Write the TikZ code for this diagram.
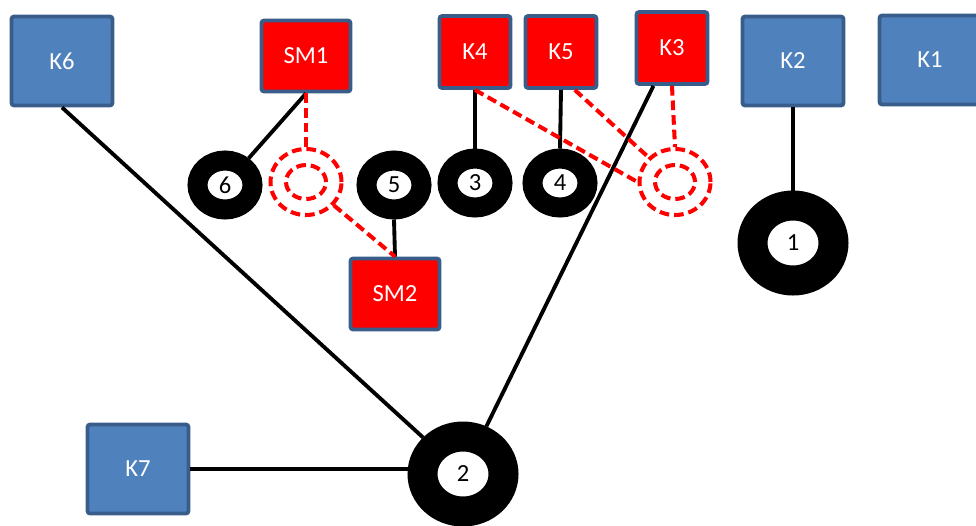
\documentclass[tikz,border=0pt]{standalone}
\usepackage{fontspec}
\setmainfont{Carlito}
\usepackage{xcolor}
\usetikzlibrary{shapes.geometric,positioning,calc}

\definecolor{boxblue}{RGB}{79,129,189}
\definecolor{boxedge}{RGB}{56,93,138}

\begin{document}
\begin{tikzpicture}[x=0.02cm, y=-0.02cm,
  bluebox/.style={rectangle, draw=boxedge, line width=2.2pt, fill=boxblue, rounded corners=1.5pt, minimum width=2.02cm, minimum height=1.78cm, text=white, font=\fontsize{14}{16}\selectfont},
  smbox/.style={bluebox, fill=red, minimum width=1.78cm, minimum height=1.42cm},
  kbox/.style={bluebox, fill=red, minimum width=1.42cm, minimum height=1.44cm},
  ring/.style={ellipse, draw=black, fill=white, line width=0.4cm, minimum width=1.1cm, minimum height=0.98cm, inner sep=0pt, font=\fontsize{14}{16}\selectfont},
  bigring/.style={ring, line width=0.6cm, minimum width=1.62cm, minimum height=1.5cm},
  dring/.style={ellipse, draw=red, line width=2.3pt, dash pattern=on 5.5pt off 2.8pt, minimum width=1.42cm, minimum height=1.32cm, inner sep=0pt},
  dhole/.style={dring, minimum width=0.8cm, minimum height=0.68cm},
  link/.style={line width=2.2pt, black},
  dlink/.style={line width=2.3pt, red, dash pattern=on 5.5pt off 2.8pt}
]
\useasboundingbox (0,0) rectangle (976,525);

% boxes
\node[bluebox] (k6) at (62,61) {K6};
\node[smbox] (sm1) at (306,56) {SM1};
\node[kbox] (k4) at (475,52) {K4};
\node[kbox] (k5) at (561,52) {K5};
\node[kbox] (k3) at (672,48) {K3};
\node[bluebox] (k2) at (793,61) {K2};
\node[bluebox] (k1) at (930,60) {K1};
\node[smbox] (sm2) at (395,294) {SM2};
\node[bluebox] (k7) at (138,469) {K7};

% rings
\node[ring] (r6) at (225,185) {6};
\node[ring] (r5) at (394,185) {5};
\node[ring] (r3) at (475,183) {3};
\node[ring] (r4) at (560,183) {4};
\node[bigring] (r1) at (793,243) {1};
\node[bigring] (r2) at (463,474) {2};

% dashed rings
\node[dring] (d1) at (306,182) {};
\node[dhole] (d1i) at (d1) {};
\node[dring] (d2) at (675,182) {};
\node[dhole] (d2i) at (d2) {};

% connectors
\draw[link] (k6.south) -- (r2);
\draw[link] (sm1.south) -- (r6);
\draw[link] (k4.south) -- (r3.north);
\draw[link] (k5.south) -- (r4.north);
\draw[link] (k3) -- (r2);
\draw[link] (k2.south) -- (r1.north);
\draw[link] (r5.south) -- (sm2.north);
\draw[link] (k7.east) -- (k7.east -| r2.west);

\draw[dlink] (sm1.south) -- (d1.north);
\draw[dlink] (d1) -- (sm2.north);
\draw[dlink] (k4.south) -- (d2.west);
\draw[dlink] (k5.290) -- (d2.north west);
\draw[dlink] (k3.south) -- (d2.north);
\end{tikzpicture}
\end{document}
